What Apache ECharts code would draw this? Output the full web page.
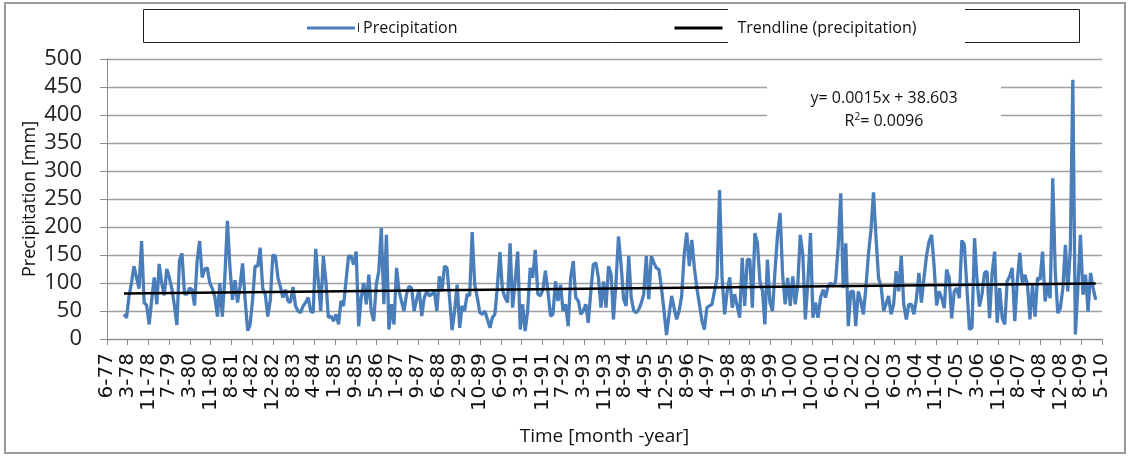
<!DOCTYPE html>
<html><head><meta charset="utf-8">
<script src="https://cdn.jsdelivr.net/npm/echarts@6/dist/echarts.min.js"></script>
<style>html,body{margin:0;padding:0;background:#fff}#c{width:1130px;height:456px}</style>
</head><body><div id="c"></div>
<script>
// Monthly precipitation [mm], Jan 1978 - Feb 2010
const startYear = 1978, startMonth = 1;
const p1978 = [44, 38, 75, 100, 130, 110, 90, 175, 65, 60, 26, 70];
const p1979 = [110, 62, 134, 100, 78, 125, 110, 90, 60, 25, 140, 153];
const p1980 = [80, 80, 91, 88, 60, 140, 175, 110, 125, 127, 100, 90];
const p1981 = [75, 40, 100, 40, 110, 211, 130, 70, 105, 65, 95, 135];
const p1982 = [70, 15, 25, 70, 130, 130, 163, 90, 80, 40, 70, 150];
const p1983 = [148, 109, 94, 74, 88, 68, 65, 93, 59, 50, 47, 59];
const p1984 = [65, 74, 50, 47, 161, 103, 50, 148, 103, 38, 41, 32];
const p1985 = [44, 26, 68, 59, 103, 148, 148, 133, 156, 23, 74, 100];
const p1986 = [62, 115, 50, 32, 97, 121, 198, 62, 186, 17, 62, 26];
const p1987 = [127, 85, 68, 50, 80, 94, 91, 50, 71, 88, 41, 74];
const p1988 = [85, 77, 80, 85, 50, 112, 85, 130, 127, 74, 16, 50];
const p1989 = [97, 20, 59, 50, 80, 77, 191, 97, 74, 47, 44, 50];
const p1990 = [35, 20, 38, 44, 94, 155, 88, 74, 65, 171, 56, 103];
const p1991 = [156, 17, 62, 14, 50, 127, 109, 159, 80, 77, 88, 122];
const p1992 = [85, 41, 44, 103, 68, 97, 50, 62, 23, 109, 139, 74];
const p1993 = [68, 44, 50, 62, 29, 85, 133, 136, 109, 56, 103, 56];
const p1994 = [130, 115, 35, 103, 183, 133, 71, 59, 148, 74, 50, 47];
const p1995 = [53, 65, 80, 148, 71, 148, 136, 127, 124, 91, 50, 7];
const p1996 = [44, 77, 56, 35, 50, 77, 151, 190, 130, 177, 127, 91];
const p1997 = [62, 32, 17, 56, 59, 62, 85, 109, 266, 109, 44, 85];
const p1998 = [110, 56, 80, 59, 38, 145, 59, 142, 142, 56, 189, 171];
const p1999 = [103, 85, 26, 142, 65, 50, 121, 186, 225, 115, 62, 109];
const p2000 = [59, 112, 62, 97, 186, 151, 35, 103, 189, 38, 65, 38];
const p2001 = [74, 88, 74, 94, 100, 94, 103, 165, 260, 91, 171, 23];
const p2002 = [85, 85, 23, 85, 68, 44, 91, 151, 195, 262, 180, 109];
const p2003 = [94, 50, 62, 77, 44, 62, 121, 85, 148, 62, 35, 62];
const p2004 = [62, 44, 71, 118, 65, 109, 148, 174, 186, 130, 60, 85];
const p2005 = [73, 55, 124, 109, 37, 85, 91, 73, 176, 168, 91, 17];
const p2006 = [20, 180, 109, 58, 79, 118, 121, 37, 118, 156, 29, 91];
const p2007 = [37, 26, 103, 112, 127, 32, 103, 154, 97, 115, 97, 35];
const p2008 = [97, 40, 109, 106, 156, 67, 97, 73, 287, 121, 46, 55];
const p2009 = [91, 168, 85, 160, 463, 8, 91, 186, 79, 115, 49, 118];
const p2010 = [91, 70];

// Trendline y = 0.0015x + 38.603 : values at first and last data point (read)
const trendValues = [81.4, 98.9];
const equationLines = ['y= 0.0015x + 38.603', 'R{sup|2}= 0.0096'];

// Excel-style date axis: starts 24-Jun-1977 (serial 28300), major unit 250 days
const AXIS_START_SERIAL = 28300, AXIS_SPAN_DAYS = 12000, TICK_DAYS = 250;

const precipitation = [].concat(p1978,p1979,p1980,p1981,p1982,p1983,p1984,p1985,p1986,p1987,
  p1988,p1989,p1990,p1991,p1992,p1993,p1994,p1995,p1996,p1997,p1998,p1999,p2000,p2001,p2002,
  p2003,p2004,p2005,p2006,p2007,p2008,p2009,p2010);

const EPOCH = Date.UTC(1899, 11, 30);
function serialOf(y, m, d) { return Math.round((Date.UTC(y, m - 1, d) - EPOCH) / 864e5); }
function labelOf(serial) {
  const dt = new Date(EPOCH + Math.round(serial) * 864e5);
  return (dt.getUTCMonth() + 1) + '-' + String(dt.getUTCFullYear()).slice(2);
}
const points = precipitation.map((v, i) => {
  const k = startMonth - 1 + i;
  const y = startYear + Math.floor(k / 12), m = k % 12 + 1;
  return [serialOf(y, m, 15) - AXIS_START_SERIAL, v];
});
const trendData = [[points[0][0], trendValues[0]], [points[points.length - 1][0], trendValues[1]]];

const FONT = '"Open Sans", "Noto Sans", sans-serif';
const chart = echarts.init(document.getElementById('c'), null, {renderer: 'canvas'});
chart.setOption({
  animation: false,
  backgroundColor: '#fff',
  grid: {left: 107, top: 59, width: 995, height: 280, containLabel: false, outerBoundsMode: 'none'},
  legend: {
    left: 307, top: 20, padding: 0, itemWidth: 48, itemHeight: 3, itemGap: 217, icon: 'rect',
    textStyle: {fontFamily: FONT, fontSize: 16, color: '#111'},
    data: [
      {name: 'Precipitation', textStyle: {padding: [0, 0, 0, 3]}},
      {name: 'Trendline (precipitation)', textStyle: {padding: [0, 0, 0, 10]}}
    ],
    z: 5
  },
  xAxis: {
    type: 'value', min: 0, max: AXIS_SPAN_DAYS, interval: TICK_DAYS,
    name: 'Time [month -year]', nameLocation: 'middle', nameGap: 88, nameMoveOverlap: false,
    nameTextStyle: {fontFamily: FONT, fontSize: 19, color: '#111'},
    axisLine: {show: true, lineStyle: {color: '#8c8c8c', width: 1}},
    axisTick: {show: true, length: 6, lineStyle: {color: '#8c8c8c'}},
    splitLine: {show: false},
    axisLabel: {
      rotate: 90, margin: 14, fontFamily: '"DejaVu Sans", sans-serif', fontSize: 20, color: '#111',
      formatter: v => labelOf(v + AXIS_START_SERIAL)
    }
  },
  yAxis: {
    type: 'value', min: 0, max: 500, interval: 50,
    name: 'Precipitation [mm]', nameLocation: 'middle', nameGap: 68, nameRotate: 90, nameMoveOverlap: false,
    nameTextStyle: {fontFamily: FONT, fontSize: 18, color: '#111'},
    axisLine: {show: true, lineStyle: {color: '#8c8c8c', width: 1}},
    axisTick: {show: true, inside: false, length: 7, lineStyle: {color: '#8c8c8c'}},
    splitLine: {show: true, lineStyle: {color: '#a0a0a0', width: 1.3}},
    axisLabel: {margin: 25, fontFamily: FONT, fontSize: 22, color: '#222'}
  },
  series: [
    {
      name: 'Precipitation', type: 'line', data: points, symbol: 'none',
      lineStyle: {color: '#4a7ebb', width: 3.3}, itemStyle: {color: '#4a7ebb'}, z: 3
    },
    {
      name: 'Trendline (precipitation)', type: 'line', data: trendData, symbol: 'none',
      lineStyle: {color: '#000', width: 2.5}, itemStyle: {color: '#000'}, z: 4
    }
  ],
  graphic: [
    {type: 'rect', shape: {x: 5, y: 3, width: 1120, height: 450}, style: {fill: 'none', stroke: '#9a9a9a', lineWidth: 2}, z: 0, silent: true},
    {type: 'rect', shape: {x: 143.5, y: 9.5, width: 936, height: 33}, style: {fill: 'none', stroke: '#222', lineWidth: 1}, z: 1, silent: true},
    {type: 'rect', shape: {x: 728, y: 7, width: 237, height: 38}, style: {fill: '#fff'}, z: 2, silent: true},
    {type: 'rect', shape: {x: 358, y: 23, width: 1, height: 9}, style: {fill: '#333'}, z: 6, silent: true},
    {type: 'rect', shape: {x: 767, y: 72, width: 234, height: 66}, style: {fill: '#fff'}, z: 10, silent: true},
    {type: 'text', x: 884, y: 98, z: 11, silent: true,
      style: {text: equationLines[0], font: '16px ' + FONT, fill: '#111', align: 'center', verticalAlign: 'middle'}},
    {type: 'text', x: 884, y: 121, z: 11, silent: true,
      style: {text: equationLines[1], font: '16px ' + FONT, fill: '#111', align: 'center', verticalAlign: 'middle',
        rich: {sup: {fontSize: 10, verticalAlign: 'top', padding: [0, 0, 8, 0], fontFamily: FONT, fill: '#111'}}}}
  ]
});
</script></body></html>
